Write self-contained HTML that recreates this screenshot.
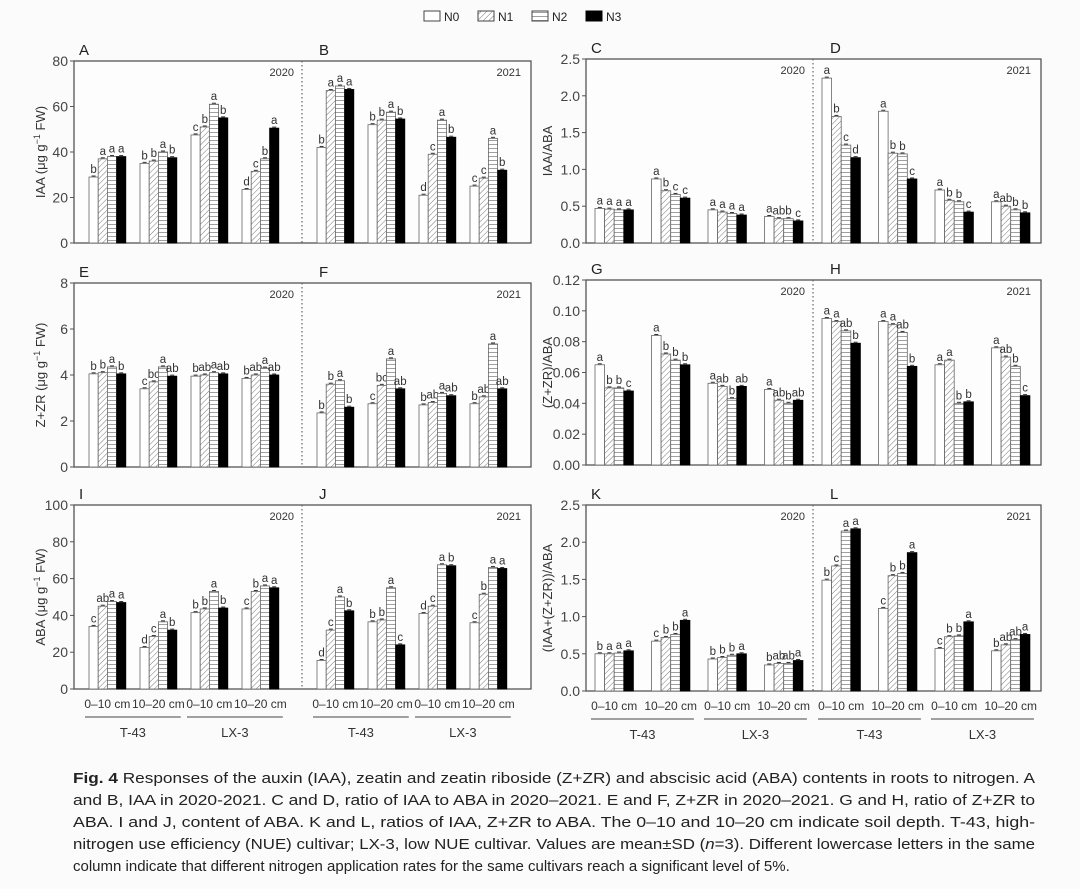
<!DOCTYPE html>
<html><head><meta charset="utf-8"><style>
body{margin:0;background:#fbfbfb;}
svg{display:block;font-family:"Liberation Sans",sans-serif;}
</style></head><body>
<svg id="fig" width="1080" height="889" viewBox="0 0 1080 889" xmlns="http://www.w3.org/2000/svg">
<defs>
<pattern id="pN1" patternUnits="userSpaceOnUse" width="4" height="4" patternTransform="rotate(45)"><rect width="4" height="4" fill="#fff"/><line x1="0" y1="0" x2="0" y2="4" stroke="#777" stroke-width="1"/></pattern>
<pattern id="pN2" patternUnits="userSpaceOnUse" width="4" height="4"><rect width="4" height="4" fill="#fff"/><line x1="0" y1="0.5" x2="4" y2="0.5" stroke="#888" stroke-width="0.8"/></pattern>
</defs>
<g id="legend" font-size="12" fill="#222">
<g><rect x="424" y="11" width="16" height="10" fill="#fff" stroke="#444"/><text x="444" y="21">N0</text></g>
<g><rect x="478" y="11" width="16" height="10" fill="url(#pN1)" stroke="#444"/><text x="498" y="21">N1</text></g>
<g><rect x="532" y="11" width="16" height="10" fill="url(#pN2)" stroke="#444"/><text x="552" y="21">N2</text></g>
<g><rect x="586" y="11" width="16" height="10" fill="#000" stroke="#000"/><text x="606" y="21">N3</text></g>
</g>
<g id="caption" font-size="15" fill="#222">
<text x="73" y="783" textLength="962" lengthAdjust="spacingAndGlyphs"><tspan font-weight="bold">Fig. 4</tspan>  Responses of the auxin (IAA), zeatin and zeatin riboside (Z+ZR) and abscisic acid (ABA) contents in roots to nitrogen.  A</text>
<text x="73" y="805" textLength="962" lengthAdjust="spacingAndGlyphs">and B, IAA in 2020-2021.  C and D, ratio of IAA to ABA in 2020–2021.  E and F, Z+ZR in 2020–2021.  G and H, ratio of Z+ZR to</text>
<text x="73" y="827" textLength="962" lengthAdjust="spacingAndGlyphs">ABA.  I and J, content of ABA.  K and L, ratios of IAA, Z+ZR to ABA.  The 0–10 and 10–20 cm indicate soil depth.  T-43, high-</text>
<text x="73" y="849" textLength="962" lengthAdjust="spacingAndGlyphs">nitrogen use efficiency (NUE) cultivar; LX-3, low NUE cultivar.  Values are mean±SD (<tspan font-style="italic">n</tspan>=3).  Different lowercase letters in the same</text>
<text x="73" y="871">column indicate that different nitrogen application rates for the same cultivars reach a significant level of 5%.</text>
</g>
</svg>
<script>
// ---- data ----
const seriesNames = ["N0","N1","N2","N3"];
const groupLabels = ["0–10 cm","10–20 cm","0–10 cm","10–20 cm"];
const cultivars = ["T-43","LX-3"];
const dataA = [[29,37,38,38],[35,36,40,37.5],[47.5,51,61,55],[23.5,31.5,37,50.5]];
const dataB = [[42,67,69,67.5],[52,54,57.5,54.5],[21,39,54,46.5],[25,28.5,46,32]];
const dataC = [[0.47,0.46,0.45,0.45],[0.87,0.71,0.66,0.61],[0.45,0.42,0.40,0.38],[0.36,0.33,0.33,0.30]];
const dataD = [[2.24,1.72,1.33,1.16],[1.79,1.22,1.21,0.87],[0.72,0.58,0.56,0.42],[0.56,0.50,0.45,0.41]];
const dataE = [[4.05,4.1,4.35,4.05],[3.4,3.7,4.35,3.95],[3.95,4.0,4.1,4.05],[3.85,4.0,4.3,4.0]];
const dataF = [[2.35,3.6,3.75,2.6],[2.75,3.55,4.7,3.4],[2.7,2.8,3.2,3.1],[2.75,3.05,5.35,3.4]];
const dataG = [[0.065,0.050,0.050,0.048],[0.084,0.072,0.068,0.065],[0.053,0.051,0.043,0.051],[0.049,0.042,0.040,0.042]];
const dataH = [[0.095,0.093,0.087,0.079],[0.093,0.091,0.086,0.064],[0.065,0.068,0.040,0.041],[0.076,0.070,0.064,0.045]];
const dataI = [[34,45,47.5,47],[22.5,28.5,36.5,32],[41.5,43.5,53,44],[43.5,53,56,55]];
const dataJ = [[15.5,32,50,42.5],[36.5,37.5,55,24],[41,45,67.5,67],[36,51.5,66,65.5]];
const dataK = [[0.50,0.50,0.51,0.54],[0.67,0.72,0.76,0.95],[0.43,0.45,0.48,0.50],[0.35,0.37,0.37,0.41]];
const dataL = [[1.49,1.68,2.15,2.18],[1.11,1.55,1.58,1.86],[0.57,0.73,0.74,0.93],[0.54,0.62,0.69,0.76]];
const letA = [["b","a","a","a"],["b","b","a","b"],["c","b","a","b"],["d","c","b","a"]];
const letB = [["b","a","a","a"],["b","b","a","b"],["d","c","a","b"],["c","c","a","b"]];
const letC = [["a","a","a","a"],["a","b","c","c"],["a","a","a","a"],["a","ab","b","c"]];
const letD = [["a","b","c","d"],["a","b","b","c"],["a","b","b","c"],["a","ab","b","b"]];
const letE = [["b","b","a","b"],["c","bc","a","ab"],["b","ab","a","ab"],["b","ab","a","ab"]];
const letF = [["b","b","a","b"],["c","bc","a","ab"],["b","ab","a","ab"],["b","ab","a","ab"]];
const letG = [["a","b","b","c"],["a","b","b","b"],["a","ab","b","ab"],["a","ab","b","ab"]];
const letH = [["a","a","ab","b"],["a","a","ab","b"],["a","a","b","b"],["a","ab","b","c"]];
const letI = [["c","ab","a","a"],["d","c","a","b"],["b","b","a","b"],["c","b","a","a"]];
const letJ = [["d","c","a","b"],["b","b","a","c"],["d","c","a","b"],["c","b","a","a"]];
const letK = [["b","a","a","a"],["c","b","b","a"],["b","b","b","a"],["b","ab","ab","a"]];
const letL = [["b","c","a","a"],["c","b","b","a"],["c","b","b","a"],["b","ab","ab","a"]];
const ticksAB = [0,20,40,60,80];
const ticksCD = [0,0.5,1.0,1.5,2.0,2.5];
const ticksEF = [0,2,4,6,8];
const ticksGH = [0,0.02,0.04,0.06,0.08,0.10,0.12];
const ticksIJ = [0,20,40,60,80,100];
const ticksKL = [0,0.5,1.0,1.5,2.0,2.5];

const NS="http://www.w3.org/2000/svg";
const svg=document.getElementById('fig');
function mk(tag,attrs,parent,txt){const e=document.createElementNS(NS,tag);for(const k in attrs)e.setAttribute(k,attrs[k]);if(txt!==undefined)e.textContent=txt;(parent||svg).appendChild(e);return e;}
const fills=["#fff","url(#pN1)","url(#pN2)","#000"];

function panelPair(cfg){
  const g=mk('g',{});
  
  
  const {x0,x1,split,yt,yb,ticks,dec}=cfg;
  const max=ticks[ticks.length-1];
  const yS=v=>yb-(v/max)*(yb-yt);
  const bg=mk('rect',{x:x0,y:yt,width:x1-x0,height:yb-yt,fill:'#fdfdfd',stroke:'#555','stroke-width':1.3},g);
  
  
  const dl=mk('line',{x1:split,y1:yt,x2:split,y2:yb,stroke:'#666','stroke-width':1.2,'stroke-dasharray':'1.5,2.5'},g);
  
  
  // y ticks
  ticks.forEach(t=>{
    const y=yS(t);
    mk('line',{x1:x0-4,y1:y,x2:x0,y2:y,stroke:'#555'},g);
    const tl=mk('text',{x:x0-6,y:y+5,'text-anchor':'end','font-size':14,fill:'#444'},g,t.toFixed(dec));
    
    
  });
  const ty=(yt+yb)/2;
  const yt2=mk('text',{x:cfg.titleX,y:ty,'text-anchor':'middle','font-size':13,fill:'#333',transform:`rotate(-90 ${cfg.titleX} ${ty})`},g);
  
  
  yt2.innerHTML=cfg.title;
  // panel letters and years
  const pl1=mk('text',{x:x0+5,y:yt-6,'font-size':15,fill:'#222'},g,cfg.letters[0]);
  
  
  const pl2=mk('text',{x:split+17,y:yt-6,'font-size':15,fill:'#222'},g,cfg.letters[1]);
  
  
  const y1=mk('text',{x:split-8,y:yt+15,'text-anchor':'end','font-size':11,fill:'#333'},g,'2020');
  
  
  const y2=mk('text',{x:x1-10,y:yt+15,'text-anchor':'end','font-size':11,fill:'#333'},g,'2021');
  
  
  [[cfg.dL,cfg.lL,x0],[cfg.dR,cfg.lR,split]].forEach(([data,lets,hx],half)=>{
    data.forEach((grp,gi)=>{
      const gx=hx+cfg.off+gi*cfg.sp;
      grp.forEach((v,si)=>{
        const bx=gx+si*cfg.bw, by=yS(v);
        const r=mk('rect',{x:bx,y:by,width:cfg.bw,height:yb-by,fill:fills[si],stroke:si==3?'#000':'#666','stroke-width':0.8},g);
        
        
        mk('line',{x1:bx+cfg.bw/2-2,y1:by-1,x2:bx+cfg.bw/2+2,y2:by-1,stroke:'#333','stroke-width':1},g);
        const lt=mk('text',{x:bx+cfg.bw/2,y:by-4,'text-anchor':'middle','font-size':11.5,fill:'#333'},g,lets[gi][si]);
        
        
      });
      if(cfg.xlab){
        const xl=mk('text',{x:gx+2*cfg.bw,y:yb+19,'text-anchor':'middle','font-size':12,fill:'#333'},g,groupLabels[gi]);
        
        
      }
    });
    if(cfg.xlab){
      [0,1].forEach(c=>{
        const a=hx+cfg.off+c*2*cfg.sp-4, b=hx+cfg.off+(c*2+1)*cfg.sp+4*cfg.bw+4;
        mk('line',{x1:a,y1:yb+28,x2:b,y2:yb+28,stroke:'#444','stroke-width':1},g);
        const cl=mk('text',{x:(a+b)/2,y:yb+48,'text-anchor':'middle','font-size':13,fill:'#333'},g,cultivars[c]);
        
        
      });
    }
  });
}
const L={x0:74,x1:531,split:302,off:15,sp:51,bw:9.2,titleX:45};
const R={x0:586,x1:1041,split:813,off:9,sp:56.5,bw:9.6,titleX:552};
panelPair(Object.assign({},L,{name:'panels-a-b-iaa',yt:61,yb:243,ticks:ticksAB,dec:0,title:'IAA (μg g<tspan dy="-5" font-size="9">−1</tspan><tspan dy="5"> FW)</tspan>',letters:['A','B'],dL:dataA,dR:dataB,lL:letA,lR:letB}));
panelPair(Object.assign({},R,{name:'panels-c-d-iaa-aba',yt:59,yb:243,ticks:ticksCD,dec:1,title:'IAA/ABA',letters:['C','D'],dL:dataC,dR:dataD,lL:letC,lR:letD}));
panelPair(Object.assign({},L,{name:'panels-e-f-zzr',yt:283,yb:467,ticks:ticksEF,dec:0,title:'Z+ZR (μg g<tspan dy="-5" font-size="9">−1</tspan><tspan dy="5"> FW)</tspan>',letters:['E','F'],dL:dataE,dR:dataF,lL:letE,lR:letF}));
panelPair(Object.assign({},R,{name:'panels-g-h-zzr-aba',yt:280,yb:465,ticks:ticksGH,dec:2,title:'(Z+ZR)/ABA',letters:['G','H'],dL:dataG,dR:dataH,lL:letG,lR:letH}));
panelPair(Object.assign({},L,{name:'panels-i-j-aba',yt:505,yb:689,ticks:ticksIJ,dec:0,title:'ABA (μg g<tspan dy="-5" font-size="9">−1</tspan><tspan dy="5"> FW)</tspan>',letters:['I','J'],dL:dataI,dR:dataJ,lL:letI,lR:letJ,xlab:true}));
panelPair(Object.assign({},R,{name:'panels-k-l-ratio',yt:505,yb:691,ticks:ticksKL,dec:1,title:'(IAA+(Z+ZR))/ABA',letters:['K','L'],dL:dataK,dR:dataL,lL:letK,lR:letL,xlab:true}));
</script>
</body></html>
